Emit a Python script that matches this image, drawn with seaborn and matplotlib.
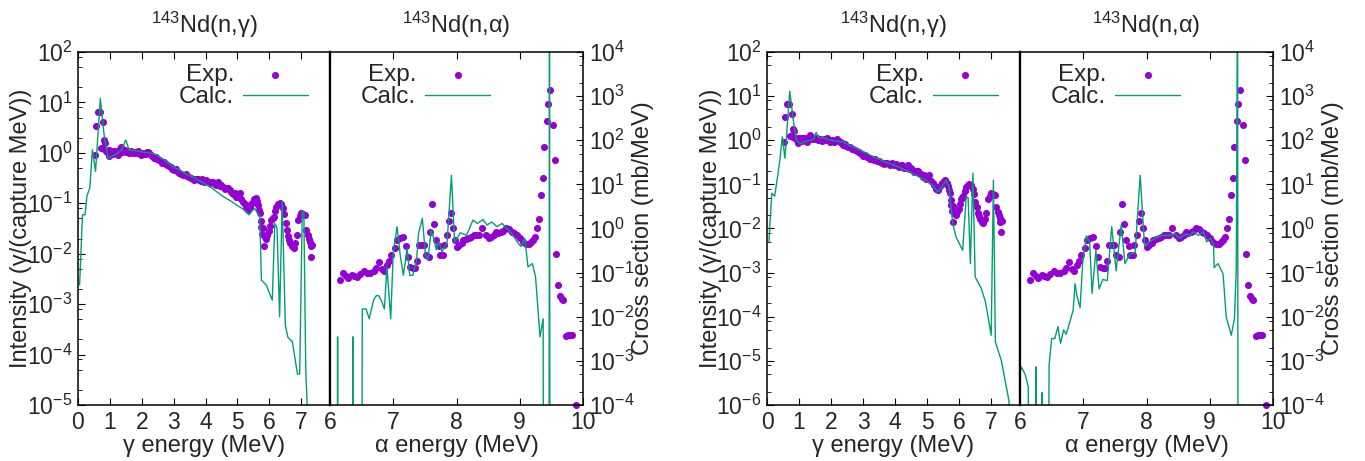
import numpy as np
import pandas as pd
import seaborn as sns
import matplotlib
matplotlib.use("Agg")
import matplotlib.pyplot as plt
from matplotlib.ticker import LogLocator, NullFormatter, FixedLocator

# experimental gamma spectrum (MeV, gamma/(capture MeV)) - same in both panels
exp_g_e = [0.53, 0.56, 0.64, 0.70, 0.72, 0.77, 0.80, 0.81, 0.84, 0.88, 0.92, 0.96, 0.98, 1.02, 1.05,
           1.09, 1.12, 1.16, 1.18, 1.22, 1.25, 1.29, 1.33, 1.35, 1.39, 1.43, 1.47, 1.51, 1.56, 1.60,
           1.66, 1.71, 1.77, 1.82, 1.87, 1.92, 1.96, 2.03, 2.08, 2.13, 2.17, 2.20, 2.24, 2.28, 2.33,
           2.38, 2.43, 2.48, 2.53, 2.59, 2.64, 2.70, 2.75, 2.80, 2.86, 2.91, 2.96, 3.01, 3.06, 3.12,
           3.17, 3.22, 3.28, 3.33, 3.38, 3.43, 3.49, 3.54, 3.60, 3.65, 3.70, 3.75, 3.80, 3.85, 3.90,
           3.95, 4.02, 4.08, 4.13, 4.18, 4.23, 4.28, 4.33, 4.39, 4.44, 4.49, 4.54, 4.60, 4.65, 4.70,
           4.75, 4.81, 4.86, 4.91, 4.96, 5.02, 5.07, 5.12, 5.17, 5.22, 5.28, 5.33, 5.38, 5.43, 5.48,
           5.53, 5.57, 5.61, 5.64, 5.68, 5.70, 5.73, 5.75, 5.78, 5.80, 5.82, 5.86, 5.90, 5.94, 5.98,
           6.02, 6.06, 6.10, 6.13, 6.17, 6.22, 6.27, 6.32, 6.37, 6.43, 6.47, 6.51, 6.55, 6.58, 6.62,
           6.66, 6.70, 6.76, 6.80, 6.85, 6.91, 6.95, 7.00, 7.05, 7.11, 7.16, 7.20, 7.23, 7.26, 7.29,
           7.30, 7.35]
exp_g_i = [0.90, 3.4, 6.6, 6.6, 1.25, 4.0, 1.2, 1.8, 1.6, 1.1, 1.05, 1.15, 0.85, 1.0, 1.1,
           0.95, 1.1, 1.05, 1.0, 1.1, 0.9, 1.05, 1.2, 1.3, 1.05, 1.1, 1.15, 1.05, 1.1, 1.0,
           1.08, 0.98, 1.05, 1.0, 1.1, 1.0, 0.9, 1.0, 0.93, 0.95, 1.02, 1.05, 0.98, 0.92, 0.85,
           0.8, 0.82, 0.75, 0.72, 0.7, 0.64, 0.65, 0.6, 0.58, 0.55, 0.52, 0.48, 0.45, 0.47, 0.42,
           0.40, 0.38, 0.37, 0.36, 0.38, 0.34, 0.33, 0.32, 0.30, 0.29, 0.30, 0.31, 0.29, 0.28, 0.31,
           0.27, 0.29, 0.26, 0.25, 0.27, 0.27, 0.24, 0.23, 0.27, 0.22, 0.23, 0.21, 0.19, 0.20, 0.20,
           0.18, 0.17, 0.15, 0.16, 0.135, 0.14, 0.16, 0.12, 0.107, 0.095, 0.079, 0.075, 0.085, 0.095, 0.107,
           0.12, 0.126, 0.11, 0.094, 0.075, 0.065, 0.045, 0.034, 0.025, 0.032, 0.014, 0.021, 0.020, 0.024, 0.028,
           0.035, 0.047, 0.05, 0.054, 0.07, 0.085, 0.095, 0.10, 0.095, 0.079, 0.06, 0.040, 0.03, 0.022, 0.019,
           0.016, 0.014, 0.013, 0.016, 0.023, 0.047, 0.055, 0.063, 0.062, 0.058, 0.030, 0.024, 0.020, 0.017, 0.014,
           0.0085, 0.015]

# experimental alpha spectrum (MeV, mb/MeV) - same in both panels
exp_a_e = [6.16, 6.21, 6.25, 6.29, 6.34, 6.38, 6.42, 6.47, 6.53, 6.58, 6.64, 6.69, 6.73, 6.77, 6.82,
           6.86, 6.90, 6.93, 6.97, 7.02, 7.06, 7.11, 7.16, 7.20, 7.23, 7.27, 7.31, 7.35, 7.38, 7.41,
           7.45, 7.49, 7.52, 7.56, 7.58, 7.62, 7.64, 7.68, 7.72, 7.74, 7.78, 7.81, 7.85, 7.88, 7.91,
           7.95, 7.98, 8.01, 8.04, 8.08, 8.11, 8.15, 8.19, 8.23, 8.27, 8.31, 8.35, 8.41, 8.46, 8.51,
           8.55, 8.59, 8.62, 8.66, 8.70, 8.74, 8.78, 8.83, 8.87, 8.91, 8.95, 9.00, 9.05, 9.10, 9.14,
           9.18, 9.21, 9.24, 9.27, 9.30, 9.33, 9.36, 9.39, 9.43, 9.45, 9.48, 9.52, 9.55, 9.58, 9.61,
           9.63, 9.67, 9.69, 9.73, 9.76, 9.80, 9.83, 9.89]
exp_a_s = [0.068, 0.10, 0.085, 0.077, 0.09, 0.085, 0.08, 0.095, 0.11, 0.1, 0.1, 0.11, 0.13, 0.17, 0.12,
           0.11, 0.15, 0.18, 0.25, 0.36, 0.55, 0.6, 0.65, 0.4, 0.23, 0.135, 0.13, 0.13, 0.18, 0.42,
           0.43, 0.42, 0.25, 0.23, 0.85, 3.5, 1.25, 0.55, 0.4, 0.25, 0.25, 0.42, 0.7, 1.5, 2.3,
           1.05, 0.56, 0.39, 0.42, 0.48, 0.55, 0.58, 0.6, 0.65, 0.7, 0.7, 0.72, 1.0, 0.7, 0.6,
           0.65, 0.7, 0.85, 0.8, 0.85, 0.9, 1.0, 0.95, 0.85, 0.78, 0.7, 0.6, 0.5, 0.45, 0.45,
           0.5, 0.55, 0.65, 1.05, 1.6, 5.8, 14, 69, 270, 650, 1400, 220, 35, 0.27, 0.053,
           0.03, 0.025, 0.024, 0.0036, 0.0038, 0.0038, 0.0038, 1e-4]

# calculated gamma spectra
calc_g_e_a = [0.05, 0.14, 0.22, 0.28, 0.37, 0.45, 0.55, 0.70, 0.81, 0.94, 1.05, 1.20, 1.35, 1.50, 1.60,
              1.80, 2.00, 2.20, 2.40, 2.60, 2.80, 3.00, 3.20, 3.40, 3.60, 3.80, 4.00, 4.20, 4.40, 4.60,
              4.80, 5.00, 5.20, 5.36, 5.45, 5.54, 5.62, 5.70, 5.75, 5.90, 6.09, 6.17, 6.24, 6.32, 6.40,
              6.50, 6.58, 6.72, 6.88, 6.95, 7.03, 7.08, 7.14, 7.25]
calc_g_i_a = [0.0024, 0.059, 0.059, 0.14, 0.2, 1.15, 0.43, 12, 2.5, 0.78, 0.85, 0.95, 1.1, 1.8, 1.15,
              1.1, 1.05, 1.0, 0.95, 0.8, 0.65, 0.52, 0.45, 0.38, 0.33, 0.28, 0.24, 0.2, 0.16, 0.13,
              0.11, 0.09, 0.075, 0.059, 0.07, 0.079, 0.065, 0.054, 0.003, 0.0024, 0.0012, 0.04, 0.032, 0.00056, 0.107,
              0.00038, 0.00022, 0.00018, 4.1e-5, 4.1e-5, 0.067, 0.067, 5e-5, 1e-6]

calc_g_e_b = [0.06, 0.15, 0.24, 0.33, 0.40, 0.48, 0.56, 0.71, 0.82, 0.92, 1.05, 1.20, 1.37, 1.45, 1.53,
              1.62, 1.80, 2.00, 2.20, 2.40, 2.60, 2.80, 3.00, 3.20, 3.40, 3.60, 3.80, 4.00, 4.20, 4.40,
              4.60, 4.80, 5.00, 5.20, 5.33, 5.45, 5.59, 5.68, 5.80, 5.90, 6.11, 6.22, 6.28, 6.35, 6.43,
              6.50, 6.69, 6.82, 7.00, 7.07, 7.13, 7.32, 7.55, 7.60]
calc_g_i_b = [0.005, 0.063, 0.054, 0.15, 0.35, 1.2, 0.39, 13, 2.9, 1.0, 0.83, 0.95, 1.0, 1.05, 1.5,
              1.15, 1.1, 1.0, 0.95, 0.9, 0.75, 0.65, 0.55, 0.47, 0.4, 0.34, 0.3, 0.27, 0.23, 0.2,
              0.17, 0.14, 0.12, 0.09, 0.068, 0.085, 0.125, 0.09, 0.013, 0.0065, 0.0032, 0.052, 0.05, 0.0016, 0.18,
              0.0008, 0.00044, 0.00022, 3.8e-5, 0.125, 2.7e-5, 1e-5, 1.3e-6, 5e-7]

# calculated alpha spectra (1e-12 stands for zero)
calc_a_e_a = [6.00, 6.11, 6.12, 6.13, 6.35, 6.36, 6.37, 6.50, 6.51, 6.57, 6.62, 6.69, 6.73, 6.77, 6.82,
              6.86, 6.90, 6.96, 7.00, 7.06, 7.11, 7.16, 7.22, 7.26, 7.31, 7.37, 7.40, 7.46, 7.51, 7.55,
              7.60, 7.64, 7.68, 7.72, 7.77, 7.85, 7.92, 7.97, 8.01, 8.06, 8.16, 8.26, 8.33, 8.42, 8.48,
              8.56, 8.64, 8.72, 8.80, 8.88, 8.96, 9.02, 9.08, 9.13, 9.20, 9.25, 9.32, 9.37, 9.38, 9.46,
              9.47, 9.48, 10.0]
calc_a_s_a = [1e-12, 1e-12, 0.0035, 1e-12, 1e-12, 0.0035, 1e-12, 1e-12, 0.015, 0.015, 0.009, 0.024, 0.03, 0.03, 0.022,
              0.015, 0.135, 0.009, 0.28, 1.1, 0.25, 0.087, 0.36, 0.087, 0.087, 0.2, 0.78, 1.7, 0.25, 0.2,
              0.9, 0.6, 0.33, 0.5, 0.3, 0.45, 16, 0.5, 0.6, 0.8, 0.7, 1.55, 1.3, 1.6, 1.2,
              1.4, 1.1, 1.3, 1.0, 0.75, 0.5, 0.39, 0.6, 0.135, 0.16, 0.08, 0.0035, 0.009, 1e-12, 1e-12,
              1e6, 1e-12, 1e-12]

calc_a_e_b = [6.00, 6.02, 6.08, 6.13, 6.17, 6.24, 6.25, 6.26, 6.34, 6.35, 6.36, 6.43, 6.46, 6.50, 6.55,
              6.60, 6.64, 6.69, 6.73, 6.78, 6.84, 6.87, 6.90, 6.95, 6.99, 7.05, 7.10, 7.14, 7.20, 7.25,
              7.31, 7.38, 7.45, 7.52, 7.60, 7.66, 7.74, 7.82, 7.90, 7.97, 8.05, 8.13, 8.24, 8.34, 8.45,
              8.53, 8.61, 8.69, 8.74, 8.82, 8.90, 8.95, 9.01, 9.06, 9.07, 9.13, 9.21, 9.26, 9.34, 9.39,
              9.42, 9.44, 9.45, 10.0]
calc_a_s_b = [5e-4, 7.3e-4, 5e-4, 2.6e-4, 1e-12, 1e-12, 7.3e-4, 1e-12, 1e-12, 1.9e-4, 1e-12, 1e-12, 8e-4, 0.0032, 0.0032,
              0.006, 0.0025, 0.005, 0.004, 0.007, 0.014, 0.056, 0.03, 0.016, 0.16, 0.68, 0.5, 0.034, 0.32, 0.043,
              0.07, 0.066, 1.1, 0.11, 1.2, 0.16, 0.27, 0.28, 16, 0.39, 0.5, 0.6, 0.7, 0.7, 0.75,
              0.6, 0.75, 0.7, 0.85, 0.7, 0.85, 0.5, 0.6, 0.45, 0.13, 0.16, 0.095, 0.01, 0.0038, 0.009,
              0.13, 1e6, 1e-12, 1e-12]

sns.set_style("ticks")
plt.rcParams["font.family"] = ["Liberation Sans", "DejaVu Sans"]
plt.rcParams["mathtext.fontset"] = "custom"
plt.rcParams["mathtext.rm"] = "Liberation Sans"
plt.rcParams["mathtext.it"] = "Liberation Sans:italic"
plt.rcParams["mathtext.bf"] = "Liberation Sans:bold"
plt.rcParams["axes.unicode_minus"] = False

PURPLE = "#9400d3"
GREEN = "#009e73"
TICK_FS = 16.5
LABEL_FS = 17
LEG_FS = 17.5


def add_legend(ax, right):
    ax.legend(loc="upper right", bbox_to_anchor=(right, 1.0), frameon=False, markerfirst=False,
              handlelength=2.7, handletextpad=0.35, labelspacing=0.0, borderaxespad=0.1,
              fontsize=LEG_FS)


def style_log(ax):
    ax.set_yscale("log")
    ax.yaxis.set_major_locator(LogLocator(base=10, numticks=20))
    ax.yaxis.set_minor_locator(LogLocator(base=10, subs=(2, 5, 8), numticks=20))
    ax.yaxis.set_minor_formatter(NullFormatter())
    for s in ax.spines.values():
        s.set_linewidth(1.1)
        s.set_color("black")


def gamma_panel(ax, calc_e, calc_i, ymin, label_x):
    sns.scatterplot(x=exp_g_e, y=exp_g_i, ax=ax, color=PURPLE, s=26, linewidth=0, label="Exp.")
    sns.lineplot(x=calc_e, y=calc_i, ax=ax, color=GREEN, lw=1.0, estimator=None, sort=False, label="Calc.")
    style_log(ax)
    ax.set_xlim(0, 7.9)
    ax.set_ylim(ymin, 1e2)
    ax.xaxis.set_major_locator(FixedLocator(range(0, 8)))
    ax.tick_params(which="both", direction="in", left=True, right=False, top=True, bottom=True,
                   labelsize=TICK_FS, color="black")
    ax.tick_params(which="major", length=5, pad=4)
    ax.tick_params(which="minor", length=3)
    ax.spines["right"].set_linewidth(1.6)
    ax.set_xlabel("γ energy (MeV)", fontsize=LABEL_FS, labelpad=1)
    ax.set_ylabel("Intensity (γ/(capture MeV))", fontsize=LABEL_FS)
    ax.yaxis.set_label_coords(label_x, 0.5)
    ax.set_title("$^{143}$Nd(n,γ)", fontsize=LABEL_FS, pad=14)
    add_legend(ax, 0.962)


def alpha_panel(ax, calc_e, calc_s):
    sns.scatterplot(x=exp_a_e, y=exp_a_s, ax=ax, color=PURPLE, s=26, linewidth=0, label="Exp.",
                    clip_on=False)
    sns.lineplot(x=calc_e, y=calc_s, ax=ax, color=GREEN, lw=1.0, estimator=None, sort=False, label="Calc.")
    style_log(ax)
    ax.set_xlim(6, 10)
    ax.set_ylim(1e-4, 1e4)
    ax.xaxis.set_major_locator(FixedLocator(range(6, 11)))
    ax.tick_params(which="both", direction="in", left=False, right=True, top=True, bottom=True,
                   labelleft=False, labelright=True, labelsize=TICK_FS, color="black")
    ax.tick_params(which="major", length=5, pad=4)
    ax.tick_params(which="minor", length=3)
    ax.spines["left"].set_linewidth(1.6)
    ax.yaxis.set_label_position("right")
    ax.set_xlabel("α energy (MeV)", fontsize=LABEL_FS, labelpad=1)
    ax.set_ylabel("Cross section (mb/MeV)", fontsize=LABEL_FS, rotation=90)
    ax.yaxis.set_label_coords(1.195, 0.5)
    ax.set_title("$^{143}$Nd(n,α)", fontsize=LABEL_FS, pad=14)
    add_legend(ax, 0.682)


fig = plt.figure(figsize=(13.65, 4.61), dpi=100)
bottom, height = 0.1215, 0.7657
ax1 = fig.add_axes([78 / 1365, bottom, 252 / 1365, height])
ax2 = fig.add_axes([330 / 1365, bottom, 253 / 1365, height])
ax3 = fig.add_axes([767 / 1365, bottom, 253 / 1365, height])
ax4 = fig.add_axes([1020 / 1365, bottom, 253 / 1365, height])

gamma_panel(ax1, calc_g_e_a, calc_g_i_a, 1e-5, -0.183)
alpha_panel(ax2, calc_a_e_a, calc_a_s_a)
gamma_panel(ax3, calc_g_e_b, calc_g_i_b, 1e-6, -0.178)
alpha_panel(ax4, calc_a_e_b, calc_a_s_b)

fig.savefig("out.png", dpi=100)
